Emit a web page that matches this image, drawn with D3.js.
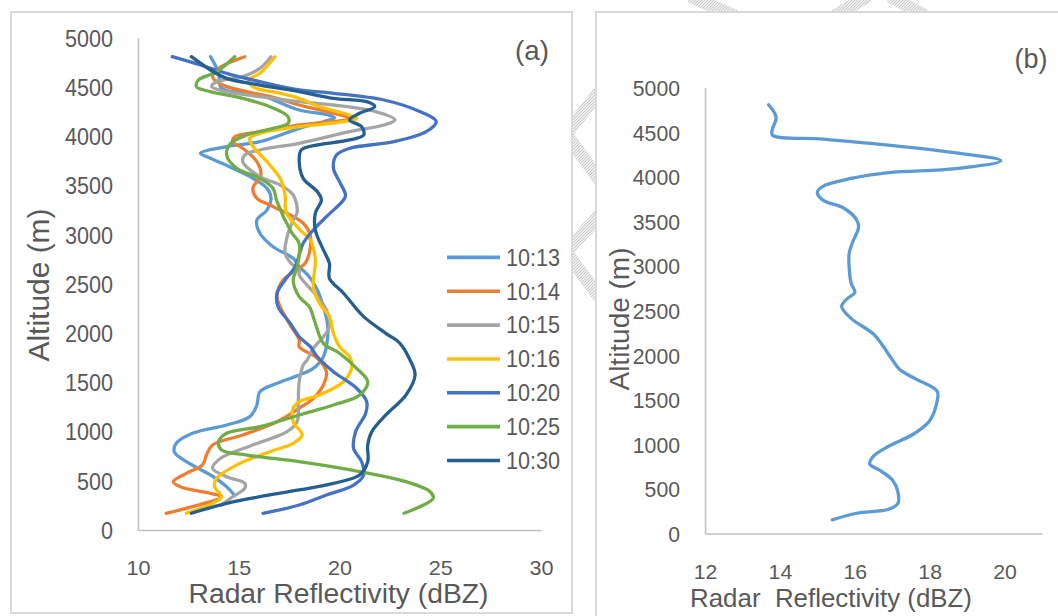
<!DOCTYPE html>
<html>
<head>
<meta charset="utf-8">
<script src="https://cdn.jsdelivr.net/npm/d3@7"></script>
<style>
  html, body { margin: 0; padding: 0; background: #ffffff; }
  svg { display: block; font-family: "Liberation Sans", Arial, sans-serif; }
</style>
</head>
<body>
<svg id="chart" width="1058" height="616"></svg>
<script>
// ---------- DATA ----------
const seriesNames = ["10:13", "10:14", "10:15", "10:16", "10:20", "10:25", "10:30"];
const seriesColors = ["#5B9BD5", "#ED7D31", "#A5A5A5", "#FFC000", "#4472C4", "#70AD47", "#255E91"];

const alt1013 = [4810,4645,4489,4421,4268,4220,4190,4160,4082,3946,3896,3828,3778,3676,3574,3473,3371,3252,3150,3015,2879,2761,2676,2574,2439,2269,2101,1931,1761,1643,1575,1491,1406,1270,1152,1067,983,881,796,694,559,440,350];
const dbz1013 = [13.6,14.0,14.15,16.05,18.0,19.4,19.75,19.4,18.0,16.05,14.4,13.1,13.6,14.7,15.7,16.4,16.6,16.4,15.9,16.05,16.7,17.7,18.0,18.5,18.9,19.2,19.4,19.4,19.2,18.7,18.0,16.9,16.05,15.9,15.55,14.4,12.7,11.9,11.8,12.4,13.6,14.4,14.8];

const alt1014 = [4810,4692,4607,4522,4455,4387,4319,4235,4184,4116,4048,3997,3946,3879,3743,3608,3540,3473,3371,3303,3117,2990,2812,2710,2660,2540,2371,2101,1931,1863,1745,1609,1474,1338,1237,1101,966,864,762,661,576,491,440,373,338,237,170];
const dbz1014 = [15.3,14.0,13.7,14.2,15.4,16.9,18.0,19.7,20.5,18.0,16.05,14.8,14.7,15.2,15.9,16.1,15.9,15.7,15.9,16.55,18.2,18.55,18.5,18.3,18.0,17.2,16.9,17.5,18.0,18.0,18.9,19.35,19.2,18.7,18.0,16.9,15.2,13.7,13.4,13.2,12.4,11.75,12.1,13.6,14.15,12.7,11.4];

const alt1015 = [4810,4692,4607,4556,4505,4455,4404,4353,4319,4251,4167,4116,4048,3930,3862,3811,3743,3591,3506,3405,3230,3150,2981,2812,2710,2642,2592,2371,2236,2066,1964,1847,1728,1677,1507,1270,1101,999,864,729,627,542,474,424,338,250];
const dbz1015 = [16.6,16.05,15.2,13.9,13.65,14.4,16.05,18.0,19.7,21.8,22.75,22.2,20.5,18.0,16.05,15.3,15.2,16.05,17.05,17.7,17.9,17.7,17.4,17.3,17.6,18.0,18.0,18.9,19.35,19.5,19.2,18.7,18.4,18.2,18.0,17.95,17.9,17.4,15.7,14.1,13.7,14.4,15.3,15.3,14.7,14.1];

const alt1016 = [4810,4641,4573,4505,4438,4387,4302,4235,4184,4150,4099,4031,3981,3913,3743,3574,3405,3230,3049,2947,2744,2473,2304,2168,1999,1863,1761,1712,1643,1507,1372,1304,1237,1101,966,881,796,661,525,440,338,271,170];
const dbz1016 = [16.8,16.05,15.5,15.7,17.05,18.0,19.0,20.2,20.85,20.2,18.0,16.05,15.55,15.65,16.4,17.05,17.3,17.35,18.05,18.55,18.8,18.7,19.0,19.5,19.7,20.0,20.5,20.6,20.6,20.2,19.0,18.0,17.7,17.7,18.15,17.7,16.55,14.9,13.9,13.8,14.15,13.7,12.4];

const alt1020 = [4810,4726,4641,4556,4472,4438,4370,4268,4150,4048,3946,3879,3811,3676,3540,3405,3354,3184,3049,2914,2676,2541,2406,2269,2101,1964,1863,1761,1609,1440,1304,1186,999,830,694,559,457,356,254,170];
const dbz1020 = [11.7,13.1,14.4,16.05,18.0,19.7,22.2,23.8,24.8,24.3,22.7,20.5,19.85,19.7,20.0,20.3,20.2,19.35,18.7,18.2,17.8,17.3,16.9,16.95,17.55,18.0,18.55,18.9,19.7,20.85,21.35,21.3,20.8,20.7,21.1,21.2,20.7,19.35,18.0,16.2];

const alt1025 = [4810,4658,4573,4505,4455,4387,4302,4200,4133,4082,4014,3930,3811,3676,3574,3473,3337,3031,2911,2671,2541,2371,2269,2101,1897,1796,1643,1507,1372,1270,1169,1050,983,897,813,762,694,593,491,389,322,170];
const dbz1025 = [14.8,13.9,13.0,12.9,13.6,15.2,16.55,17.45,17.45,16.7,15.4,14.6,14.4,14.9,16.05,16.7,16.9,17.6,18.0,17.9,17.7,18.0,18.5,18.8,19.2,20.0,20.85,21.4,21.0,19.7,18.0,16.05,14.4,14.0,14.15,15.4,18.0,21.0,23.3,24.5,24.65,23.2];

const alt1030 = [4810,4675,4590,4522,4455,4387,4353,4302,4235,4167,4099,4014,3964,3913,3862,3743,3574,3438,3354,3219,3049,2846,2710,2558,2406,2168,1999,1897,1728,1575,1372,1169,999,864,694,559,474,407,338,271,170];
const dbz1030 = [12.65,13.6,14.4,16.05,18.0,19.7,21.35,21.75,21.0,20.5,21.1,21.2,20.5,18.9,18.1,18.0,18.2,18.9,19.1,18.8,18.8,19.2,19.5,19.5,20.2,21.2,22.3,23.0,23.5,23.75,23.3,22.3,21.6,21.4,21.4,21.0,19.7,18.0,16.05,14.4,12.65];

// panel (b)
const altB = [4806,4664,4532,4466,4421,4355,4267,4179,4090,4046,3980,3892,3826,3737,3649,3517,3428,3274,3141,2987,2810,2700,2634,2545,2412,2236,2104,1949,1839,1728,1596,1485,1265,1110,978,867,779,713,602,470,337,272,227,153];
const dbzB = [13.7,13.9,13.8,13.8,15.15,16.9,18.7,19.9,18.7,16.9,15.9,15.15,15.0,15.15,15.7,16.05,16.1,15.95,15.85,15.85,15.9,16.0,15.8,15.65,15.9,16.5,16.75,17.0,17.2,17.65,18.2,18.2,18.0,17.55,16.9,16.5,16.4,16.65,17.0,17.15,17.15,16.9,16.05,15.4];

const altTicks = [0,500,1000,1500,2000,2500,3000,3500,4000,4500,5000];
const xTicksA = [10,15,20,25,30];
const xTicksB = [12,14,16,18,20];

const altSeries = [alt1013, alt1014, alt1015, alt1016, alt1020, alt1025, alt1030];
const dbzSeries = [dbz1013, dbz1014, dbz1015, dbz1016, dbz1020, dbz1025, dbz1030];

// ---------- DRAW ----------
const svg = d3.select("#chart");
const textColor = "#595959";
const axisColor = "#BFBFBF";

// faint background watermark (behind the chart frames)
const defs = svg.append("defs");
const pat = defs.append("pattern").attr("id", "hatch").attr("patternUnits", "userSpaceOnUse")
  .attr("width", 3).attr("height", 3);
pat.append("rect").attr("width", 3).attr("height", 3).attr("fill", "#EEEEEE");
pat.append("path").attr("d", "M0,3 L3,0").attr("stroke", "#C8C8C8").attr("stroke-width", 1);
const wm = svg.append("g").attr("fill", "none").attr("stroke", "url(#hatch)")
  .attr("stroke-width", 13).attr("stroke-linejoin", "miter");
wm.append("polyline").attr("points", "612,76 566,134 608,192");
wm.append("polyline").attr("points", "610,204 566,252 612,314");
wm.append("line").attr("x1", 690).attr("y1", -4).attr("x2", 735).attr("y2", 16);
wm.append("line").attr("x1", 868).attr("y1", -4).attr("x2", 835).attr("y2", 16);
wm.append("line").attr("x1", 890).attr("y1", -4).attr("x2", 925).attr("y2", 16);

// frames
svg.append("rect").attr("x", 11).attr("y", 12).attr("width", 561).attr("height", 601)
  .attr("fill", "#ffffff").attr("stroke", "#D9D9D9").attr("stroke-width", 2);
svg.append("rect").attr("x", 596).attr("y", 12).attr("width", 470).attr("height", 612)
  .attr("fill", "#ffffff").attr("stroke", "#D9D9D9").attr("stroke-width", 2);

function styleAxis(g, isY, textLenPerChar, fontSize, offset) {
  g.select(".domain").attr("stroke", axisColor).attr("stroke-width", 1.5);
  g.selectAll(".tick line").remove();
  g.selectAll(".tick text")
    .attr("fill", textColor)
    .attr("font-size", fontSize)
    .attr("font-family", "'Liberation Sans', Arial, sans-serif")
    .each(function() {
      const t = d3.select(this);
      const s = t.text();
      t.attr("textLength", s.length * textLenPerChar).attr("lengthAdjust", "spacingAndGlyphs");
    });
  if (!isY) {
    g.selectAll(".tick text").attr("y", offset).attr("dy", "0.35em");
  } else {
    g.selectAll(".tick text").attr("dy", "0.36em");
  }
}

// ----- Panel (a) -----
const xa = d3.scaleLinear().domain([10, 30]).range([138, 541]);
const ya = d3.scaleLinear().domain([0, 5000]).range([530, 38]);

const gya = svg.append("g").attr("transform", `translate(${xa(10)},0)`)
  .call(d3.axisLeft(ya).tickValues(altTicks).tickSize(0).tickPadding(25).tickFormat(d3.format("d")));
styleAxis(gya, true, 12, 23);
const gxa = svg.append("g").attr("transform", `translate(0,${ya(0)})`)
  .call(d3.axisBottom(xa).tickValues(xTicksA).tickSize(0).tickFormat(d3.format("d")));
styleAxis(gxa, false, 12, 21, 38);

const lineA = d3.line().curve(d3.curveCatmullRom.alpha(0.5));
seriesNames.forEach((name, i) => {
  const pts = altSeries[i].map((a, j) => [xa(dbzSeries[i][j]), ya(a)]);
  svg.append("path").attr("d", lineA(pts))
    .attr("fill", "none").attr("stroke", seriesColors[i])
    .attr("stroke-width", 3.3).attr("stroke-linecap", "round").attr("stroke-linejoin", "round");
});

// legend
const legend = svg.append("g");
seriesNames.forEach((name, i) => {
  const y = 257.4 + 33.85 * i;
  legend.append("line").attr("x1", 447).attr("x2", 500).attr("y1", y).attr("y2", y)
    .attr("stroke", seriesColors[i]).attr("stroke-width", 3.6);
  legend.append("text").attr("x", 506).attr("y", y).attr("dy", "0.36em")
    .attr("fill", textColor).attr("font-size", 23)
    .attr("textLength", 54).attr("lengthAdjust", "spacingAndGlyphs").text(name);
});

svg.append("text").attr("x", 338.5).attr("y", 603).attr("text-anchor", "middle")
  .attr("fill", textColor).attr("font-size", 27)
  .attr("textLength", 300).attr("lengthAdjust", "spacingAndGlyphs")
  .text("Radar Reflectivity (dBZ)");
svg.append("text").attr("transform", "translate(49,285) rotate(-90)").attr("text-anchor", "middle")
  .attr("fill", textColor).attr("font-size", 29)
  .attr("textLength", 153).attr("lengthAdjust", "spacingAndGlyphs")
  .text("Altitude (m)");
svg.append("text").attr("x", 532).attr("y", 60).attr("text-anchor", "middle")
  .attr("fill", textColor).attr("font-size", 28)
  .attr("textLength", 34).attr("lengthAdjust", "spacingAndGlyphs").text("(a)");

// ----- Panel (b) -----
const xb = d3.scaleLinear().domain([12, 21]).range([705, 1042]);
const yb = d3.scaleLinear().domain([0, 5000]).range([533.5, 87.5]);

const gyb = svg.append("g").attr("transform", `translate(${xb(12)},0)`)
  .call(d3.axisLeft(yb).tickValues(altTicks).tickSize(0).tickPadding(25).tickFormat(d3.format("d")));
styleAxis(gyb, true, 11.8, 22);
const gxb = svg.append("g").attr("transform", `translate(0,${yb(0)})`)
  .call(d3.axisBottom(xb).tickValues(xTicksB).tickSize(0).tickFormat(d3.format("d")));
styleAxis(gxb, false, 11.8, 21, 38.5);

const ptsB = altB.map((a, j) => [xb(dbzB[j]), yb(a)]);
svg.append("path").attr("d", lineA(ptsB))
  .attr("fill", "none").attr("stroke", "#5B9BD5")
  .attr("stroke-width", 3.3).attr("stroke-linecap", "round").attr("stroke-linejoin", "round");

svg.append("text").attr("x", 831).attr("y", 607).attr("text-anchor", "middle")
  .attr("fill", textColor).attr("font-size", 25).style("white-space", "pre")
  .attr("textLength", 282).attr("lengthAdjust", "spacingAndGlyphs")
  .text("Radar  Reflectivity (dBZ)");
svg.append("text").attr("transform", "translate(629,319) rotate(-90)").attr("text-anchor", "middle")
  .attr("fill", textColor).attr("font-size", 27)
  .attr("textLength", 143).attr("lengthAdjust", "spacingAndGlyphs")
  .text("Altitude (m)");
svg.append("text").attr("x", 1031).attr("y", 68).attr("text-anchor", "middle")
  .attr("fill", textColor).attr("font-size", 28)
  .attr("textLength", 33).attr("lengthAdjust", "spacingAndGlyphs").text("(b)");
</script>
</body>
</html>
